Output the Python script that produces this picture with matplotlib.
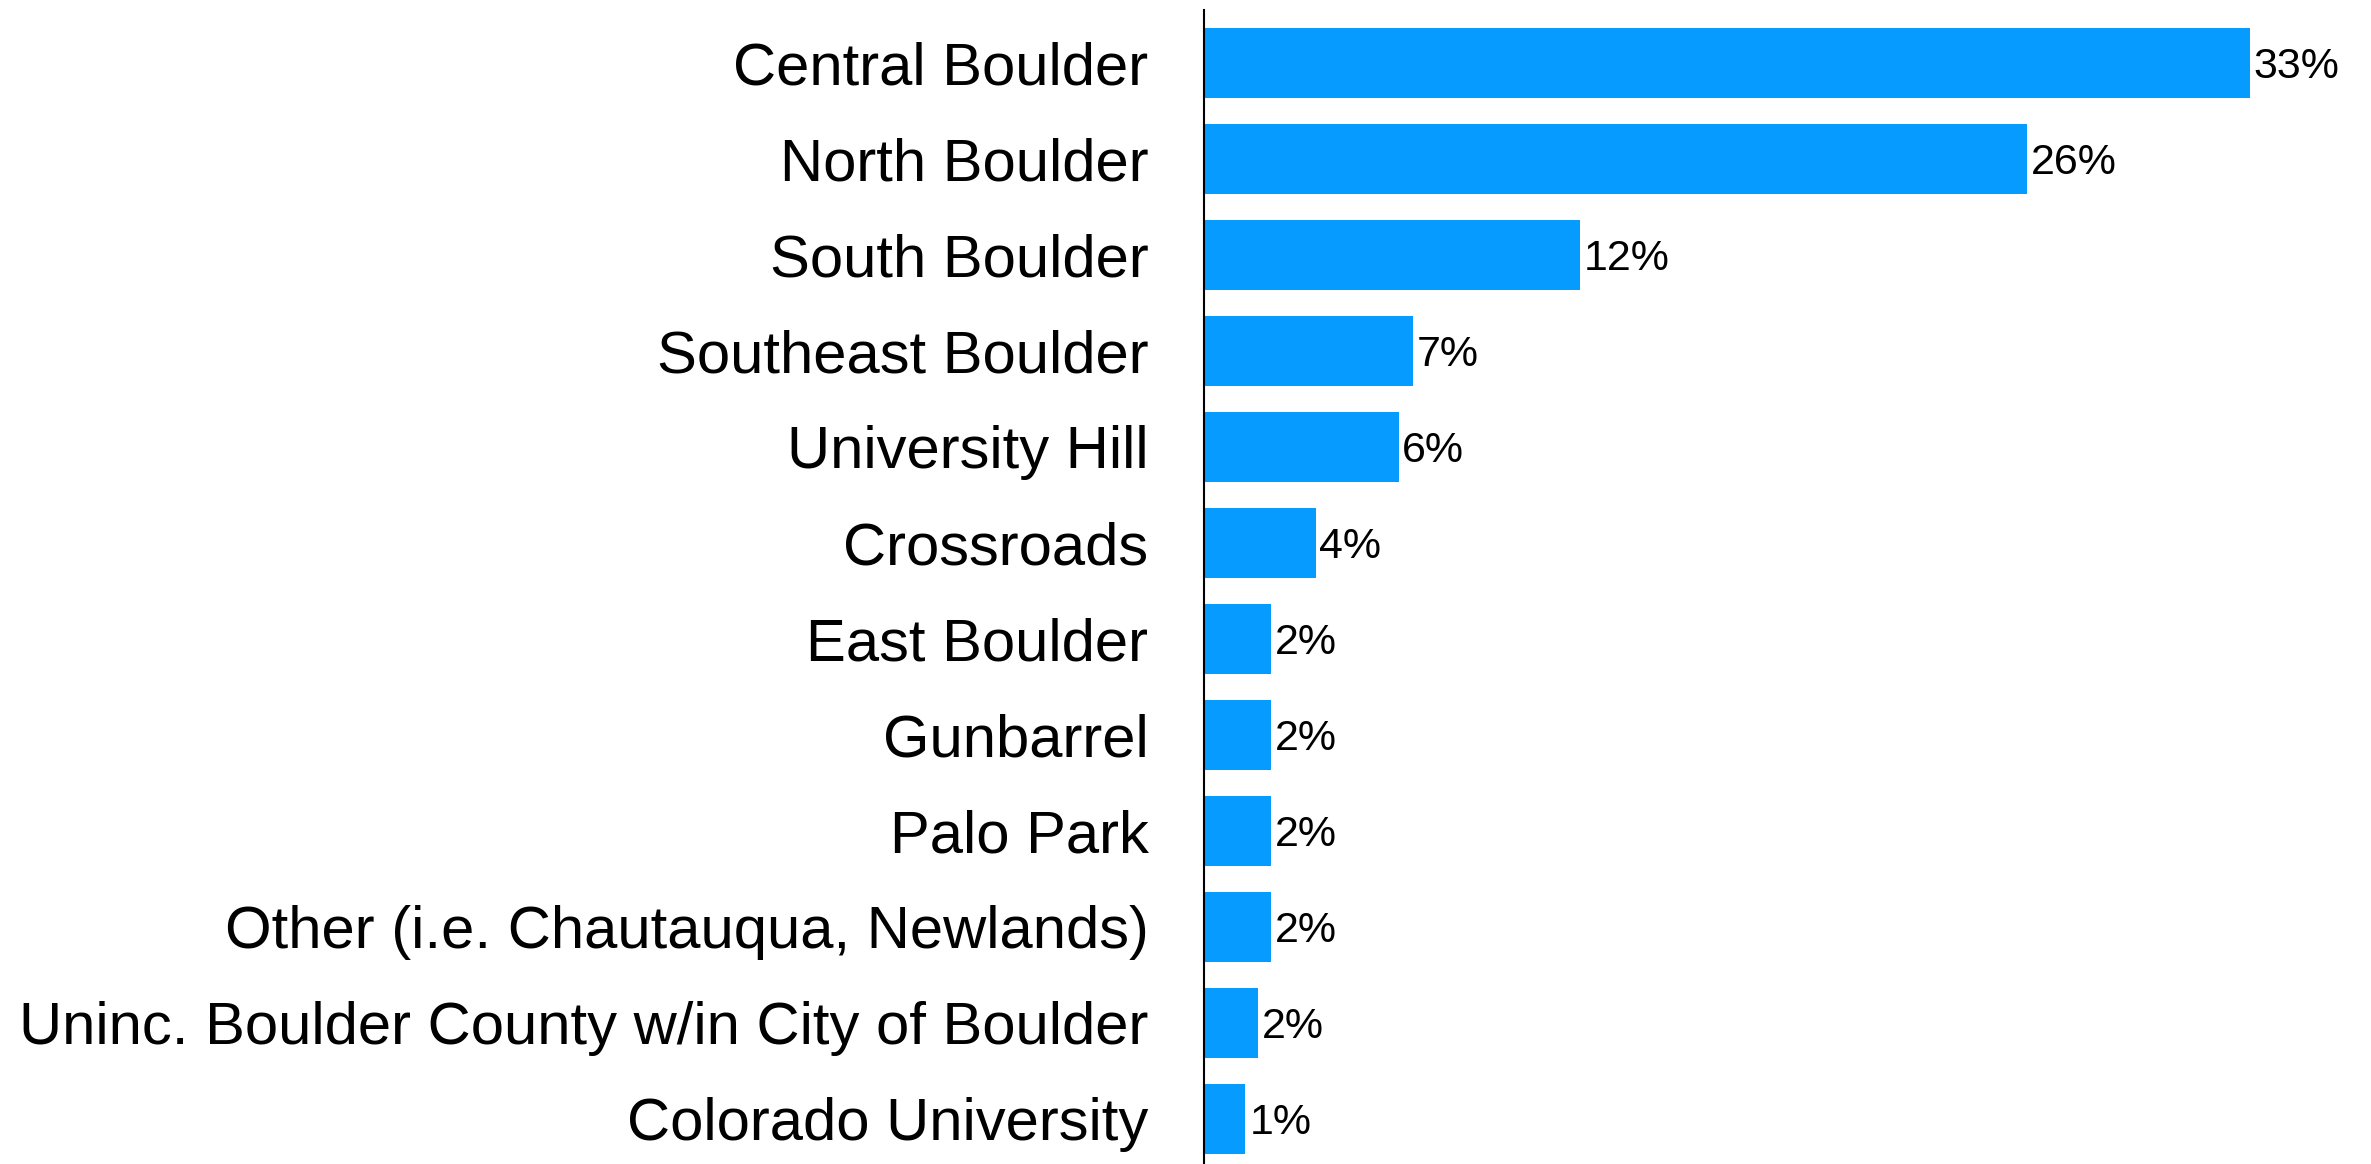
import matplotlib.pyplot as plt

# neighbourhood shares
areas = [
    "Central Boulder",
    "North Boulder",
    "South Boulder",
    "Southeast Boulder",
    "University Hill",
    "Crossroads",
    "East Boulder",
    "Gunbarrel",
    "Palo Park",
    "Other (i.e. Chautauqua, Newlands)",
    "Uninc. Boulder County w/in City of Boulder",
    "Colorado University",
]
shares = [32.8, 25.8, 11.8, 6.55, 6.1, 3.5, 2.1, 2.1, 2.1, 2.1, 1.7, 1.3]
share_labels = ["33%", "26%", "12%", "7%", "6%", "4%", "2%", "2%", "2%", "2%", "2%", "1%"]

plt.rcParams['font.family'] = ['Liberation Sans', 'DejaVu Sans']

W, H = 2371, 1164
fig = plt.figure(figsize=(W / 100, H / 100), dpi=100)
ax = fig.add_axes([1204 / W, 0, 1 - 1204 / W, 1154 / H])

pos = list(range(len(areas)))
ax.barh(pos, shares, height=0.73, color='#059BFF')

for y, v, lab in zip(pos, shares, share_labels):
    ax.text(v + 0.12, y, lab, va='center_baseline', ha='left', fontsize=31)

ax.set_yticks(pos)
ax.set_yticklabels(areas, fontsize=43)
ax.tick_params(axis='y', length=0, pad=40)
ax.set_xticks([])
ax.set_xlim(0, 36.6)
ax.set_ylim(11.47, -0.55)

for side in ['top', 'right', 'bottom']:
    ax.spines[side].set_visible(False)
ax.spines['left'].set_linewidth(1.5)

fig.savefig('out.png', dpi=100)
